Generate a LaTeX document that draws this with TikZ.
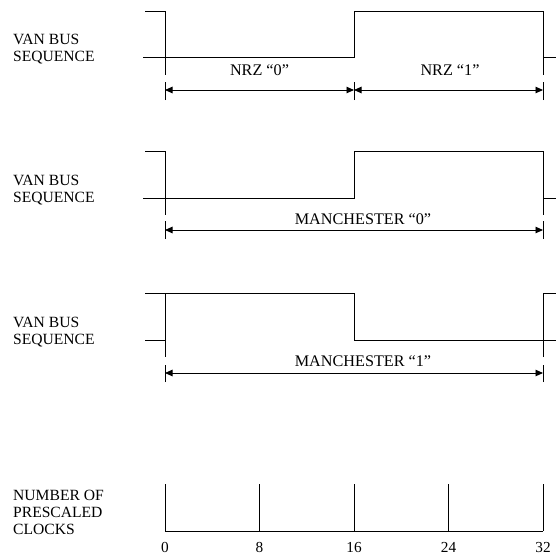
\documentclass[tikz,border=0pt]{standalone}
\usepackage{fontspec}
\setmainfont{Liberation Serif}
\usetikzlibrary{arrows.meta}
\tikzset{
	sig/.style={line width=0.9pt},
	ext/.style={line width=0.9pt},
	dimline/.style={line width=0.9pt,{Triangle[length=7.5pt,width=6.5pt]}-{Triangle[length=7.5pt,width=6.5pt]}},
	side/.style={anchor=base west,align=left,inner sep=0pt,font=\fontsize{15.6}{16.8}\selectfont},
	mid/.style={inner sep=0pt,font=\fontsize{16.2}{18}\selectfont},
	num/.style={inner sep=0pt,font=\fontsize{15.3}{17}\selectfont}
}
\begin{document}
\begin{tikzpicture}[x=1pt,y=-1pt]
	\useasboundingbox (0,0) rectangle (556,557);

	\node[side] (s1) at (13,61.7) {VAN BUS\\SEQUENCE};
	\draw[sig] (145,11) -- (165,11) -- (165,75);
	\draw[sig] (143,57) -- (354,57) -- (354,11) -- (543,11) -- (543,75);
	\draw[sig] (543,57) -- (556,57);
	\coordinate (a0) at (165,90);
	\coordinate (a1) at (354,90);
	\coordinate (a2) at (543,90);
	\foreach \c in {a0,a1,a2}
		\draw[ext] ([yshift=-10pt]\c) -- ([yshift=8pt]\c);
	\draw[dimline] (a0) -- (a1);
	\draw[dimline] (a1) -- (a2);
	\node[mid] (n0) at (259.5,70.5) {NRZ “0”};
	\node[mid] (n1) at (450,70.5) {NRZ “1”};

	\node[side] (s2) at (13,202.7) {VAN BUS\\SEQUENCE};
	\draw[sig] (145,151) -- (165,151) -- (165,215);
	\draw[sig] (143,198) -- (354,198) -- (354,151) -- (543,151) -- (543,215);
	\draw[sig] (543,198) -- (556,198);
	\coordinate (b0) at (165,230);
	\coordinate (b1) at (543,230);
	\foreach \c in {b0,b1}
		\draw[ext] ([yshift=-9pt]\c) -- ([yshift=9pt]\c);
	\draw[dimline] (b0) -- (b1);
	\node[mid] (m0) at (363,219) {MANCHESTER “0”};

	\node[side] (s3) at (13,344.7) {VAN BUS\\SEQUENCE};
	\draw[sig] (145,293) -- (354,293) -- (354,340) -- (556,340);
	\draw[sig] (145,340) -- (165,340);
	\draw[sig] (165,293) -- (165,357);
	\draw[sig] (543,357) -- (543,293) -- (556,293);
	\coordinate (c0) at (165,373);
	\coordinate (c1) at (543,373);
	\foreach \c in {c0,c1}
		\draw[ext] ([yshift=-9pt]\c) -- ([yshift=8pt]\c);
	\draw[dimline] (c0) -- (c1);
	\node[mid] (m1) at (363,361) {MANCHESTER “1”};

	\node[side] (s4) at (13,534.3) {NUMBER OF\\PRESCALED\\CLOCKS};
	\draw[sig] (165,531) -- (543,531);
	\foreach \k/\x in {0/165,8/259.5,16/354,24/448.5,32/543} {
		\draw[sig] (\x,484) -- (\x,531);
		\node[num] (t\k) at (\x,547.5) {\k};
	}
\end{tikzpicture}
\end{document}
